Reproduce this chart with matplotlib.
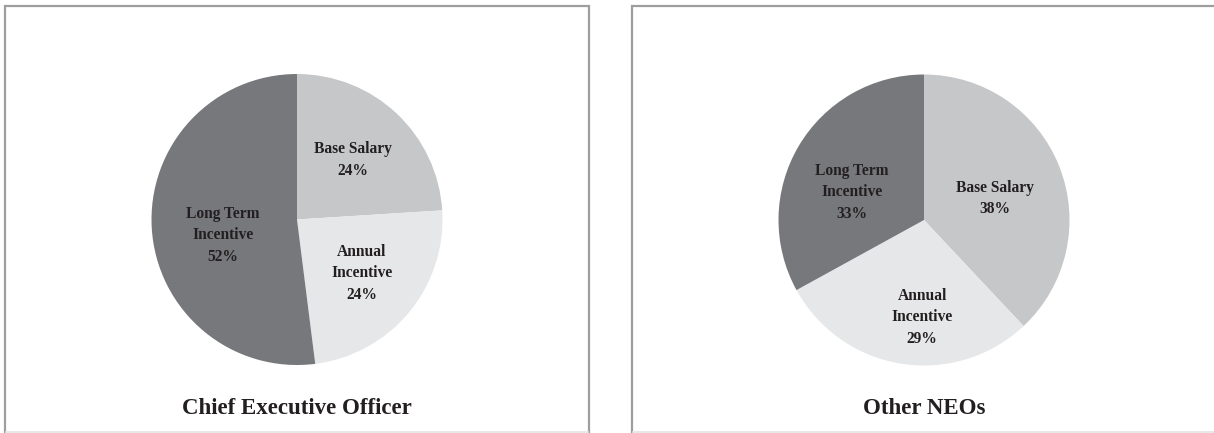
import numpy as np
import matplotlib
matplotlib.use('Agg')
import matplotlib.pyplot as plt
from matplotlib.patches import Rectangle
from matplotlib.lines import Line2D

plt.rcParams['font.family'] = ['Liberation Serif', 'DejaVu Serif']

categories = ['Base Salary', 'Annual\nIncentive', 'Long Term\nIncentive']
ceo_values = [24, 24, 52]
neo_values = [38, 29, 33]
titles = ['Chief Executive Officer', 'Other NEOs']

colors = ['#c6c7c9', '#e6e7e8', '#77787b']
text_color = '#231f20'
border_color = '#9d9ea0'

W, H = 1214, 433
fig = plt.figure(figsize=(W / 100, H / 100), dpi=100)

# panel boxes (pixel coords from top-left)
panels = [(5, 589), (632, 1216)]
pie_centers = [(297, 219.5), (924, 220)]
radius_px = 145.5
# label placement: (distance as fraction of radius, angle shift from wedge middle)
label_pos = [[(0.56, 0), (0.58, 0), (0.52, 8.4)],
             [(0.51, -4.6), (0.67, 8), (0.53, 9.6)]]

for i, values in enumerate([ceo_values, neo_values]):
    x0, x1 = panels[i]
    fig.patches.append(Rectangle((x0 / W, -0.05), (x1 - x0) / W, (H - 6) / H + 0.05,
                                 transform=fig.transFigure, fill=False,
                                 edgecolor=border_color, linewidth=1.6, zorder=0))
    fig.lines.append(Line2D([(x0 + 1) / W, (x1 - 1) / W], [0.6 / H, 0.6 / H],
                            transform=fig.transFigure, color='#e4e4e4', linewidth=1.2))

    cx, cy = pie_centers[i]
    ax = fig.add_axes([(cx - radius_px) / W, (H - cy - radius_px) / H,
                       2 * radius_px / W, 2 * radius_px / H])
    wedges, _ = ax.pie(values, colors=colors, startangle=90, counterclock=False,
                       radius=1, wedgeprops=dict(linewidth=0))
    ax.set_xlim(-1, 1)
    ax.set_ylim(-1, 1)
    ax.set_aspect('equal')
    ax.axis('off')

    for j, w in enumerate(wedges):
        d, shift = label_pos[i][j]
        ang = np.deg2rad((w.theta1 + w.theta2) / 2 + shift)
        ax.text(d * np.cos(ang), d * np.sin(ang), f'{categories[j]}\n{values[j]}%',
                ha='center', va='center', fontsize=11.2, fontweight='bold',
                color=text_color, linespacing=1.45)

    fig.text((x0 + x1) / 2 / W, 24 / H, titles[i], ha='center', va='center',
             fontsize=16.5, fontweight='bold', color=text_color)

fig.savefig('out.png', dpi=100)
